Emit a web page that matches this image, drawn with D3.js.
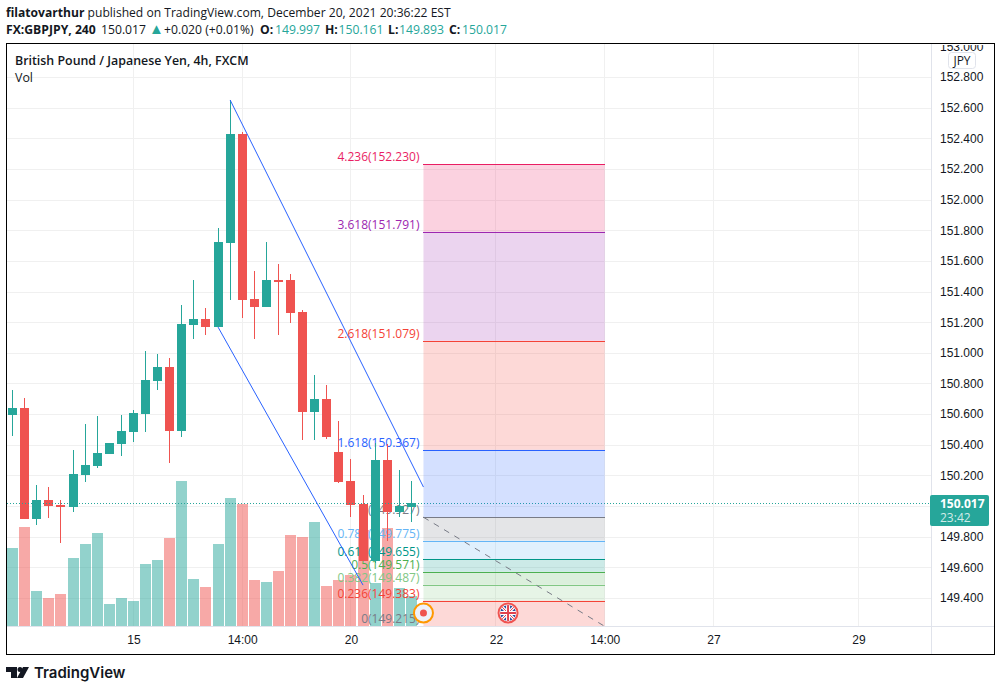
<!DOCTYPE html>
<html>
<head>
<meta charset="utf-8">
<title>GBPJPY</title>
<script src="https://cdn.jsdelivr.net/npm/d3@7"></script>
<style>
  html, body { margin: 0; padding: 0; background: #fff; }
  svg { display: block; font-family: "Open Sans", "Noto Sans", sans-serif; }
</style>
</head>
<body>
<svg width="1001" height="691"></svg>
<script>
// candles
const opens = [150.594, 150.639, 149.915, 150.039, 150.006, 149.993, 150.202, 150.261, 150.339, 150.404, 150.483, 150.600, 150.816, 150.907, 150.489, 151.181, 151.220, 151.168, 151.716, 152.428, 151.351, 151.299, 151.475, 151.475, 151.266, 150.613, 150.698, 150.352, 150.163, 150.013, 149.641, 150.300, 149.960, 149.997];
const highs = [150.757, 150.705, 150.137, 150.124, 150.039, 150.365, 150.535, 150.587, 150.411, 150.594, 150.626, 151.011, 150.992, 150.966, 151.312, 151.475, 151.292, 151.814, 152.650, 152.441, 151.534, 151.723, 151.579, 151.514, 151.279, 150.855, 150.790, 150.555, 150.306, 150.072, 150.411, 150.404, 150.235, 150.161];
const lows = [150.457, 149.915, 149.876, 149.921, 149.758, 149.960, 150.156, 150.248, 150.339, 150.326, 150.417, 150.483, 150.757, 150.280, 150.450, 151.090, 151.116, 151.168, 151.344, 151.227, 151.090, 151.299, 151.116, 151.194, 150.430, 150.430, 150.437, 150.150, 149.928, 149.641, 149.628, 149.771, 149.928, 149.893];
const closes = [150.639, 149.915, 150.039, 150.000, 149.993, 150.209, 150.267, 150.346, 150.411, 150.489, 150.607, 150.822, 150.907, 150.489, 151.188, 151.220, 151.168, 151.723, 152.428, 151.344, 151.299, 151.475, 151.468, 151.260, 150.613, 150.698, 150.450, 150.156, 150.006, 149.641, 150.300, 149.960, 150.000, 150.017];
const volumes = [78, 99, 35, 28, 32, 68, 82, 93, 22, 28, 25, 62, 66, 88, 145, 47, 39, 82, 128, 122, 46, 44, 55, 91, 89, 104, 40, 46, 51, 96, 43, 98, 38, 30];

// price axis and time axis
const priceTicks = [153, 152.8, 152.6, 152.4, 152.2, 152, 151.8, 151.6, 151.4, 151.2, 151, 150.8, 150.6, 150.4, 150.2, 149.8, 149.6, 149.4];
const gridPrices = [152.8, 152.6, 152.4, 152.2, 152, 151.8, 151.6, 151.4, 151.2, 151, 150.8, 150.6, 150.4, 150.2, 150, 149.8, 149.6, 149.4];
const timeIndex = [10, 19, 28, 40, 49, 58, 70];
const timeLabels = ["15", "14:00", "20", "22", "14:00", "27", "29"];

// fib extension levels
const fibRatios = ["4.236", "3.618", "2.618", "1.618", "1", "0.786", "0.618", "0.5", "0.382", "0.236", "0"];
const fibPrices = [152.230, 151.791, 151.079, 150.367, 149.927, 149.775, 149.655, 149.571, 149.487, 149.383, 149.215];
const fibColors = ["#e91e63", "#9c27b0", "#f44336", "#2962ff", "#787b86", "#64b5f6", "#009688", "#4caf50", "#81c784", "#f44336", "#787b86"];

// drawing tool anchors [bar index, price]
const upperLine = [[18, 152.650], [34, 150.124]];
const lowerLine = [[17, 151.168], [29, 149.484]];
const dashedLine = [[34, 149.927], [49, 149.215]];

const lastPrice = 150.017;
const upColor = "#26a69a";
const downColor = "#ef5350";
const textColor = "#131722";

const svg = d3.select("svg");

const paneLeft = 7, paneRight = 931, paneTop = 44, paneBottom = 626;

const x = d3.scaleLinear().domain([0, 70]).range([12.6, 858.5]);
const y = d3.scaleLinear().domain([152.8, 149.4]).range([77, 598]);
const volY = d3.scaleLinear().domain([0, 145]).range([paneBottom, 481]);

svg.append("clipPath").attr("id", "pane")
  .append("rect")
  .attr("x", paneLeft).attr("y", paneTop)
  .attr("width", paneRight - paneLeft).attr("height", paneBottom - paneTop);
svg.append("clipPath").attr("id", "scale")
  .append("rect")
  .attr("x", paneRight).attr("y", paneTop + 1)
  .attr("width", 60).attr("height", 584);

// grid
const grid = svg.append("g").attr("shape-rendering", "crispEdges");
grid.selectAll(".h").data(gridPrices).join("line")
  .attr("x1", paneLeft).attr("x2", paneRight)
  .attr("y1", d => Math.round(y(d)) + 0.5).attr("y2", d => Math.round(y(d)) + 0.5)
  .attr("stroke", "#f0f0f0");
grid.selectAll(".v").data(timeIndex).join("line")
  .attr("x1", d => Math.floor(x(d)) + 0.5).attr("x2", d => Math.floor(x(d)) + 0.5)
  .attr("y1", paneTop).attr("y2", paneBottom)
  .attr("stroke", "#f0f0f0");

const pane = svg.append("g").attr("clip-path", "url(#pane)");

// volume
pane.append("g").selectAll("rect").data(volumes).join("rect")
  .attr("shape-rendering", "crispEdges")
  .attr("x", (d, i) => Math.floor(x(i)) - 5)
  .attr("width", 11)
  .attr("y", d => volY(d))
  .attr("height", d => paneBottom - volY(d))
  .attr("fill", (d, i) => closes[i] >= opens[i] ? upColor : downColor)
  .attr("fill-opacity", 0.5);

// fib labels sit above the volume but under the candles
const fibLeft = x(34), fibRight = x(49);
pane.append("g").attr("font-size", 12).attr("text-anchor", "end")
  .selectAll("text").data(fibPrices).join("text")
  .attr("x", fibLeft - 4)
  .attr("y", d => y(d) - 3)
  .attr("fill", (d, i) => fibColors[i])
  .text((d, i) => fibRatios[i] + "(" + d.toFixed(3) + ")");

// candles
const candles = pane.append("g").attr("shape-rendering", "crispEdges")
  .selectAll("g").data(d3.range(opens.length)).join("g")
  .attr("fill", i => closes[i] >= opens[i] ? upColor : downColor);
candles.append("rect")
  .attr("x", i => Math.floor(x(i)))
  .attr("width", 1)
  .attr("y", i => Math.round(y(highs[i])))
  .attr("height", i => Math.round(y(lows[i])) - Math.round(y(highs[i])));
candles.append("rect")
  .attr("x", i => Math.floor(x(i)) - 4)
  .attr("width", 9)
  .attr("y", i => Math.round(y(Math.max(opens[i], closes[i]))))
  .attr("height", i => Math.max(2, Math.round(y(Math.min(opens[i], closes[i]))) - Math.round(y(Math.max(opens[i], closes[i])))));

// last price line
pane.append("line")
  .attr("x1", paneLeft).attr("x2", paneRight)
  .attr("y1", Math.round(y(lastPrice)) + 0.5).attr("y2", Math.round(y(lastPrice)) + 0.5)
  .attr("stroke", upColor).attr("stroke-dasharray", "1,2");

// fib bands and lines
const fib = pane.append("g");
fib.selectAll("rect").data(fibPrices.slice(0, -1)).join("rect")
  .attr("x", fibLeft).attr("width", fibRight - fibLeft)
  .attr("y", d => y(d))
  .attr("height", (d, i) => y(fibPrices[i + 1]) - y(d))
  .attr("fill", (d, i) => fibColors[i])
  .attr("fill-opacity", 0.2);
fib.selectAll("line").data(fibPrices.slice(0, -1)).join("line")
  .attr("shape-rendering", "crispEdges")
  .attr("x1", fibLeft).attr("x2", fibRight)
  .attr("y1", d => Math.round(y(d)) + 0.5).attr("y2", d => Math.round(y(d)) + 0.5)
  .attr("stroke", (d, i) => fibColors[i]);

// trend lines
const line = d3.line().x(d => x(d[0])).y(d => y(d[1]));
pane.append("path").attr("d", line(upperLine)).attr("fill", "none").attr("stroke", "#2962ff");
pane.append("path").attr("d", line(lowerLine)).attr("fill", "none").attr("stroke", "#2962ff");
pane.append("path").attr("d", line(dashedLine)).attr("fill", "none").attr("stroke", "#787b86").attr("stroke-dasharray", "6,6");

// event markers on the time line
const dot = pane.append("g").attr("transform", "translate(" + x(34) + ",613)");
dot.append("circle").attr("r", 9.5).attr("fill", "#eef1fb").attr("stroke", "#ff9800").attr("stroke-width", 2);
dot.append("circle").attr("r", 3.5).attr("fill", "#ef5350");

const flag = pane.append("g").attr("transform", "translate(" + x(41) + ",613)");
svg.append("clipPath").attr("id", "flagClip").append("circle").attr("r", 8);
flag.append("circle").attr("r", 9.5).attr("fill", "#fff").attr("stroke", "#ef5350").attr("stroke-width", 2);
const flagInner = flag.append("g").attr("clip-path", "url(#flagClip)");
flagInner.append("circle").attr("r", 8).attr("fill", "#2a4f9e");
flagInner.append("path").attr("d", "M-8,-8L8,8M-8,8L8,-8").attr("stroke", "#fff").attr("stroke-width", 3);
flagInner.append("path").attr("d", "M-8,-8L8,8M-8,8L8,-8").attr("stroke", "#e0424f").attr("stroke-width", 1);
flagInner.append("path").attr("d", "M0,-8V8M-8,0H8").attr("stroke", "#fff").attr("stroke-width", 4);
flagInner.append("path").attr("d", "M0,-8V8M-8,0H8").attr("stroke", "#e0424f").attr("stroke-width", 2);

// axes
const priceAxis = d3.axisRight(y).tickValues(priceTicks).tickFormat(d3.format(".3f")).tickSize(0).tickPadding(9);
const gPrice = svg.append("g").attr("clip-path", "url(#scale)")
  .append("g").attr("transform", "translate(" + paneRight + ",0)")
  .call(priceAxis);
gPrice.select(".domain").remove();
gPrice.selectAll("text").attr("font-size", 12).attr("font-family", "inherit").attr("fill", textColor);

const timeAxis = d3.axisBottom(x).tickValues(timeIndex).tickFormat((d, i) => timeLabels[i]).tickSize(0).tickPadding(9);
const gTime = svg.append("g").attr("transform", "translate(0," + paneBottom + ")").call(timeAxis);
gTime.select(".domain").remove();
gTime.selectAll("text").attr("font-size", 12).attr("font-family", "inherit").attr("fill", textColor);

// pane borders
const borders = svg.append("g").attr("shape-rendering", "crispEdges");
borders.append("line").attr("x1", paneRight + 0.5).attr("x2", paneRight + 0.5).attr("y1", paneTop).attr("y2", 654).attr("stroke", "#e0e3eb");
borders.append("line").attr("x1", paneLeft).attr("x2", 995).attr("y1", 626.5).attr("y2", 626.5).attr("stroke", "#e0e3eb");
borders.append("rect").attr("x", 6.5).attr("y", 43.5).attr("width", 988).attr("height", 611)
  .attr("fill", "none").attr("stroke", "#000");

// currency box
svg.append("rect").attr("x", 948.5).attr("y", 52.5).attr("width", 27).attr("height", 16).attr("rx", 3)
  .attr("fill", "#fff").attr("stroke", "#e0e3eb");
svg.append("text").attr("x", 962).attr("y", 64.5).attr("text-anchor", "middle").attr("font-size", 12).attr("fill", textColor).text("JPY");

// last price tag
svg.append("rect").attr("x", 930).attr("y", 495).attr("width", 59).attr("height", 31).attr("rx", 2).attr("fill", upColor);
svg.append("text").attr("x", 940).attr("y", 508).attr("font-size", 12).attr("font-weight", 700).attr("fill", "#fff").text(lastPrice.toFixed(3));
svg.append("text").attr("x", 940).attr("y", 522).attr("font-size", 12).attr("fill", "#fff").attr("fill-opacity", 0.8).text("23:42");

// header
const line1 = svg.append("text").attr("x", 6).attr("y", 17).attr("font-size", 12.1).attr("fill", textColor);
line1.append("tspan").attr("font-weight", 700).text("filatovarthur");
line1.append("tspan").text(" published on TradingView.com, December 20, 2021 20:36:22 EST");

const line2 = svg.append("text").attr("y", 34).attr("font-size", 12.2).attr("fill", textColor);
line2.append("tspan").attr("x", 6).attr("font-weight", 700).text("FX:GBPJPY, 240");
line2.append("tspan").attr("x", 101).text("150.017");
line2.append("tspan").attr("x", 149).attr("font-size", 15).attr("fill", upColor).text("▲");
line2.append("tspan").attr("x", 164).text("+0.020 (+0.01%)");
[["O:", opens, 260, 275], ["H:", highs, 325, 338.5], ["L:", lows, 388, 399], ["C:", closes, 449, 462]].forEach(p => {
  line2.append("tspan").attr("x", p[2]).attr("font-weight", 700).text(p[0]);
  line2.append("tspan").attr("x", p[3]).attr("fill", upColor).text(p[1][p[1].length - 1].toFixed(3));
});

svg.append("text").attr("x", 15).attr("y", 65).attr("font-size", 12.4).attr("font-weight", 600).attr("fill", textColor).text("British Pound / Japanese Yen, 4h, FXCM");
svg.append("text").attr("x", 15).attr("y", 82).attr("font-size", 12.4).attr("fill", textColor).text("Vol");

// logo
const logo = svg.append("g").attr("fill", textColor);
logo.append("path").attr("d", "M6,667H17V678H11V672H6Z");
logo.append("circle").attr("cx", 20).attr("cy", 669.5).attr("r", 2.5);
logo.append("path").attr("d", "M23,667H29L23,678H17Z");
svg.append("text").attr("x", 34).attr("y", 678).attr("font-size", 15).attr("font-weight", 600).attr("font-family", "Inter, sans-serif").attr("fill", textColor).text("TradingView");
</script>
</body>
</html>
